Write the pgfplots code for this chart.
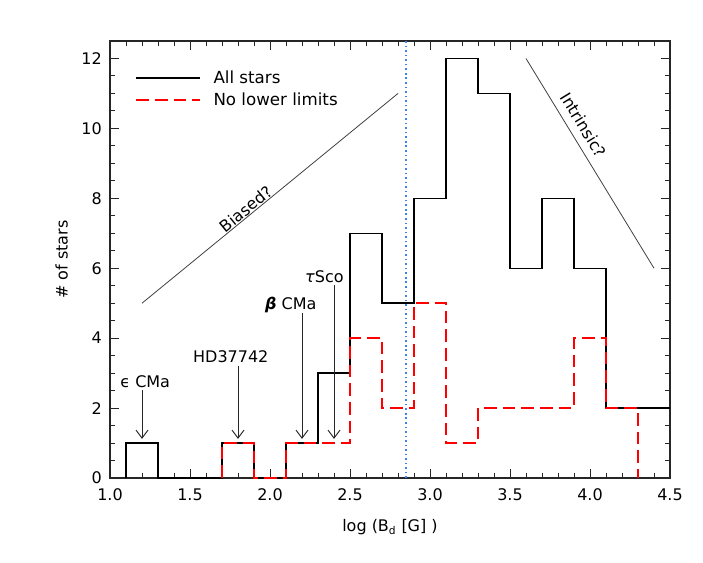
\documentclass[border=0pt]{standalone}
\usepackage{pgfplots}
\pgfplotsset{compat=1.18}
\usepackage{fontspec}
\setmainfont{DejaVu Sans}
\usetikzlibrary{arrows.meta}
\definecolor{myblue}{RGB}{60,130,235}
\begin{document}
\fontsize{12}{14}\selectfont
\begin{tikzpicture}
\useasboundingbox (-82.5pt,-63pt) rectangle (444.75pt,358.5pt);
\begin{axis}[
  at={(0pt,0pt)}, anchor=south west,
  scale only axis, width=420pt, height=327.75pt,
  xmin=1.0, xmax=4.5, ymin=0, ymax=12.5,
  xtick={1.0,1.5,2.0,2.5,3.0,3.5,4.0,4.5},
  minor x tick num=4,
  ytick={0,2,4,6,8,10,12},
  minor y tick num=3,
  /pgf/number format/assume math mode=true,
  tick align=inside,
  major tick length=6.75pt, minor tick length=3.75pt,
  axis line style={line width=1pt, black!85},
  every tick/.style={black!85, line width=0.7pt},
  tick label style={font=\fontsize{12}{14}\selectfont},
  label style={font=\fontsize{12}{14}\selectfont},
  xlabel={log (B$_{\mathrm{d}}$ [G] )},
  ylabel={\# of stars},
  xlabel style={at={(0.5,-0.1121)}, anchor=center},
  ylabel style={at={(-0.0864,0.5)}, anchor=center},
  xticklabel style={/pgf/number format/fixed, /pgf/number format/fixed zerofill, /pgf/number format/precision=1, yshift=-4pt},
  yticklabel style={xshift=-2pt},
  legend style={draw=none, fill=none, at={(0.037,0.945)}, anchor=north west,
    font=\fontsize{12.5}{14}\selectfont, row sep=1pt,
    /tikz/every odd column/.append style={column sep=7pt}},
  legend cell align=left,
  legend image code/.code={\draw[#1] (0pt,0pt) -- (48pt,0pt);},
]
\addplot[const plot mark left, black, line width=1.1pt] coordinates {
  (1.1,0) (1.1,1) (1.3,0) (1.7,1) (1.9,0) (2.1,1) (2.3,3) (2.5,7) (2.7,5)
  (2.9,8) (3.1,12) (3.3,11) (3.5,6) (3.7,8) (3.9,6) (4.1,2) (4.5,2)};
\addlegendentry{All stars}
\addplot[const plot mark left, red, line width=1.9pt, dash pattern=on 9.5pt off 4.5pt] coordinates {
  (1.7,0) (1.7,1) (1.9,0) (2.1,1) (2.3,1) (2.5,4) (2.7,2) (2.9,5) (3.1,1)
  (3.3,2) (3.5,2) (3.7,2) (3.9,4) (4.1,2) (4.3,0)};
\addlegendentry{No lower limits}
\addplot[myblue, line width=1.2pt, dash pattern=on 1.2pt off 2.2pt, forget plot] coordinates {(2.85,0) (2.85,12.5)};
% annotation lines
\draw[black!75, line width=0.6pt] (axis cs:1.2,5) -- (axis cs:2.8,11);
\draw[black!75, line width=0.6pt] (axis cs:3.6,12) -- (axis cs:4.4,6);
\node[rotate=39.4] at (axis cs:1.85,7.7) {Biased?};
\node[rotate=-58.6] at (axis cs:3.96,10.1) {Intrinsic?};
% arrows
\draw[black!85, line width=0.7pt, -{Straight Barb[length=6pt,width=9pt]}] (axis cs:1.2,2.52) -- (axis cs:1.2,1.12);
\draw[black!85, line width=0.7pt, -{Straight Barb[length=6pt,width=9pt]}] (axis cs:1.8,3.19) -- (axis cs:1.8,1.12);
\draw[black!85, line width=0.7pt, -{Straight Barb[length=6pt,width=9pt]}] (axis cs:2.2,4.71) -- (axis cs:2.2,1.12);
\draw[black!85, line width=0.7pt, -{Straight Barb[length=6pt,width=9pt]}] (axis cs:2.4,5.52) -- (axis cs:2.4,1.12);
\node at (axis cs:1.22,2.76) {ϵ CMa};
\node at (axis cs:1.755,3.47) {HD37742};
\node at (axis cs:2.13,4.95) {{\bfseries\itshape β} CMa};
\node at (axis cs:2.34,5.76) {{\itshape τ}Sco};
\end{axis}
\end{tikzpicture}
\end{document}
